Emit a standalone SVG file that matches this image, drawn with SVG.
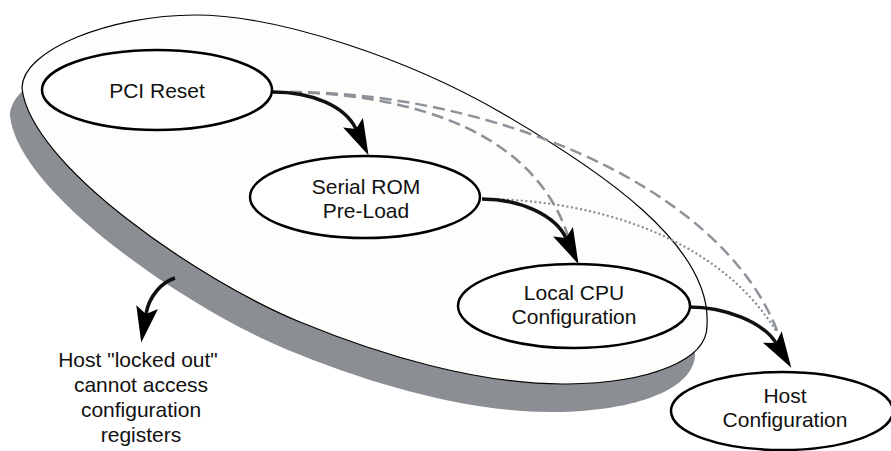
<svg xmlns="http://www.w3.org/2000/svg" width="891" height="451" viewBox="0 0 891 451">
<style>
.node ellipse{fill:#fff;stroke:#000;stroke-width:2.5}
.label{font-family:"Liberation Sans",Arial,sans-serif;font-size:21px;text-anchor:middle;fill:#111}
.flow{fill:none;stroke:#111;stroke-width:3.5}
.dash{fill:none;stroke:#8d9298;stroke-width:2.5;stroke-dasharray:12 6}
.dot{fill:none;stroke:#8a8f95;stroke-width:2.3;stroke-dasharray:0.1 4.5;stroke-linecap:round}
</style>
<defs>
<path id="diskShape" d="M22,88 C22,50 110,15 195,15 C280,15 410,60 500,112 C600,170 712,245 707,325 C708,360 650,383 567,384 C480,385 380,355 300,322 C200,281 30,165 22,88 Z"/>
<marker id="ah" markerUnits="userSpaceOnUse" orient="auto" overflow="visible" refX="0" refY="0" markerWidth="1" markerHeight="1">
<path d="M-7,-11 L29,0 L-7,11 L0,0 Z" fill="#000"/>
</marker>
</defs>
<g id="disk">
<use href="#diskShape" transform="translate(-12,28)" fill="#8b8f94"/>
<use href="#diskShape" fill="#fdfdfb" stroke="#000" stroke-width="1.2"/>
</g>
<g id="connectors">
<path class="dash" d="M290,92 C480,92 720,180 778,333"/>
<path class="dash" d="M290,92 C420,95 535,135 568,236"/>
<path class="dot" d="M485,199 C600,200 720,240 776,331"/>
<path class="flow" marker-end="url(#ah)" d="M273,92 C312,92 345,106 356,129"/>
<path class="flow" marker-end="url(#ah)" d="M482,199 C520,199 555,215 566,238"/>
<path class="flow" marker-end="url(#ah)" d="M689,307 C725,307 763,322 776,343"/>
<path class="flow" stroke-width="3.2" marker-end="url(#ah)" d="M175,278 C162,282 149,296 146,314"/>
</g>
<g id="node-pci-reset" class="node">
<ellipse cx="157" cy="90" rx="115" ry="40"/>
<text class="label" x="157" y="98">PCI Reset</text>
</g>
<g id="node-serial-rom" class="node">
<ellipse cx="365" cy="197" rx="115" ry="41"/>
<text class="label" x="366" y="194">Serial ROM</text>
<text class="label" x="366" y="218">Pre-Load</text>
</g>
<g id="node-local-cpu" class="node">
<ellipse cx="574" cy="306" rx="116" ry="42"/>
<text class="label" x="574" y="300">Local CPU</text>
<text class="label" x="574" y="324">Configuration</text>
</g>
<g id="node-host-config" class="node">
<ellipse cx="782" cy="411" rx="111" ry="39"/>
<text class="label" x="785" y="403">Host</text>
<text class="label" x="785" y="427">Configuration</text>
</g>
<g id="note">
<text class="label" x="138" y="367">Host "locked out"</text>
<text class="label" x="141" y="392">cannot access</text>
<text class="label" x="141" y="417">configuration</text>
<text class="label" x="141" y="442">registers</text>
</g>
</svg>
